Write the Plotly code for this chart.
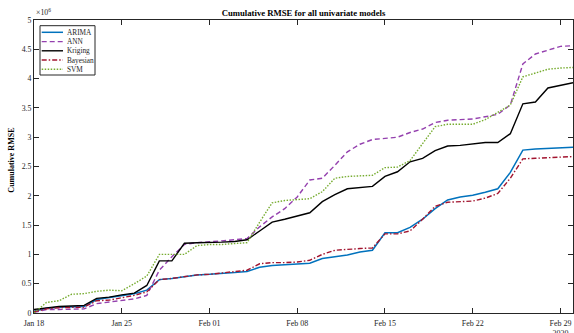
import pandas as pd
import plotly.graph_objects as go

# Dates (daily, Jan 18 2020 .. Mar 1 2020)
dates = pd.date_range("2020-01-18", "2020-03-01", freq="D")

# Cumulative RMSE values, in units of 1e6
arima = [0.03, 0.08, 0.10, 0.10, 0.11, 0.23, 0.26, 0.30, 0.33, 0.39,
         0.57, 0.59, 0.62, 0.65, 0.66, 0.67, 0.69, 0.71, 0.78, 0.81,
         0.82, 0.84, 0.85, 0.93, 0.96, 0.99, 1.04, 1.07, 1.37, 1.37,
         1.46, 1.60, 1.78, 1.93, 1.98, 2.01, 2.06, 2.12, 2.40, 2.78,
         2.80, 2.81, 2.82, 2.83]
ann = [0.01, 0.06, 0.06, 0.06, 0.07, 0.16, 0.19, 0.21, 0.24, 0.30,
       0.73, 0.96, 1.17, 1.20, 1.21, 1.23, 1.25, 1.27, 1.47, 1.64,
       1.78, 1.98, 2.27, 2.30, 2.52, 2.75, 2.88, 2.96, 2.98, 3.00,
       3.08, 3.14, 3.25, 3.29, 3.30, 3.31, 3.35, 3.39, 3.55, 4.25,
       4.42, 4.48, 4.55, 4.56]
kriging = [0.06, 0.09, 0.11, 0.12, 0.13, 0.25, 0.27, 0.31, 0.34, 0.47,
           0.89, 0.89, 1.19, 1.20, 1.20, 1.21, 1.22, 1.25, 1.40, 1.55,
           1.60, 1.65, 1.71, 1.90, 2.02, 2.12, 2.14, 2.16, 2.33, 2.41,
           2.58, 2.64, 2.77, 2.85, 2.86, 2.88, 2.91, 2.91, 3.06, 3.57,
           3.60, 3.84, 3.89, 3.93]
bayesian = [0.02, 0.07, 0.09, 0.10, 0.10, 0.21, 0.22, 0.26, 0.30, 0.36,
            0.57, 0.59, 0.62, 0.65, 0.66, 0.68, 0.70, 0.73, 0.84, 0.86,
            0.86, 0.87, 0.90, 1.00, 1.07, 1.09, 1.10, 1.11, 1.35, 1.35,
            1.40, 1.60, 1.82, 1.89, 1.90, 1.91, 1.96, 2.04, 2.30, 2.63,
            2.64, 2.65, 2.67, 2.67]
svm = [0.00, 0.18, 0.21, 0.32, 0.33, 0.37, 0.39, 0.38, 0.50, 0.63,
       1.00, 1.00, 1.00, 1.15, 1.17, 1.17, 1.18, 1.20, 1.55, 1.88,
       1.92, 1.93, 1.95, 2.07, 2.30, 2.33, 2.34, 2.35, 2.48, 2.49,
       2.60, 2.90, 3.18, 3.22, 3.22, 3.22, 3.30, 3.42, 3.55, 4.03,
       4.10, 4.16, 4.18, 4.19]

x_tick_vals = ["2020-01-18", "2020-01-25", "2020-02-01", "2020-02-08",
               "2020-02-15", "2020-02-22", "2020-02-29"]
x_tick_text = ["Jan 18", "Jan 25", "Feb 01", "Feb 08", "Feb 15", "Feb 22",
               "Feb 29<br>2020"]
y_tick_vals = [0, 0.5, 1, 1.5, 2, 2.5, 3, 3.5, 4, 4.5, 5]
y_tick_text = ["0", "0.5", "1", "1.5", "2", "2.5", "3", "3.5", "4", "4.5", "5"]

names = ["ARIMA", "ANN", "Kriging", "Bayesian", "SVM"]
series = [arima, ann, kriging, bayesian, svm]
colors = ["#0072BD", "#9440AE", "#000000", "#A2142F", "#77AC30"]
dashes = ["solid", "5px,3px", "solid", "5px,2px,1.5px,2px", "1.5px,1.5px"]
widths = [1.5, 1.4, 1.4, 1.4, 1.4]

FONT = "Liberation Serif"
AX = "#262626"

fig = go.Figure()
for n, s, c, d, w in zip(names, series, colors, dashes, widths):
    fig.add_trace(go.Scatter(x=dates, y=s, name=n, mode="lines",
                             line=dict(color=c, dash=d, width=w),
                             showlegend=False))

# Custom legend (MATLAB-like compact box)
L, R, T, B = 34, 573, 20, 313
W, H = R - L, B - T
def px(x):
    return (x - L) / W
def py(y):
    return (B - y) / H

shapes = [dict(type="rect", xref="paper", yref="paper",
               x0=px(40), x1=px(95), y0=py(75), y1=py(25.7),
               line=dict(color=AX, width=1), fillcolor="white", layer="above")]
annotations = []
ys = [32.3, 41.6, 50.8, 60.0, 69.3]
for n, c, d, w, yy in zip(names, colors, dashes, widths, ys):
    shapes.append(dict(type="line", xref="paper", yref="paper",
                       x0=px(41.7), x1=px(63), y0=py(yy), y1=py(yy),
                       line=dict(color=c, dash=d, width=w), layer="above"))
    annotations.append(dict(text=n, xref="paper", yref="paper",
                            x=px(65.3), y=py(yy), xanchor="left", yanchor="middle",
                            showarrow=False, font=dict(family=FONT, size=7.3, color=AX)))

annotations.append(dict(text="×10<sup>6</sup>", xref="paper", yref="paper",
                        x=px(34), y=py(19), xanchor="left", yanchor="bottom",
                        showarrow=False, font=dict(family=FONT, size=7.8, color=AX)))
annotations.append(dict(text="<b>Cumulative RMSE</b>", xref="paper", yref="paper",
                        x=px(12), y=0.52, textangle=-90, xanchor="center", yanchor="middle",
                        showarrow=False, font=dict(family=FONT, size=8, color="#000000")))
annotations.append(dict(text="<b>Date</b>", xref="paper", yref="paper",
                        x=0.5, y=py(330), xanchor="center", yanchor="top",
                        showarrow=False, font=dict(family=FONT, size=8, color="#000000")))

fig.update_layout(
    width=574, height=333,
    margin=dict(l=L, r=574 - R, t=T, b=333 - B, pad=0),
    paper_bgcolor="white", plot_bgcolor="white",
    font=dict(family=FONT, size=8, color=AX),
    title=dict(text="<b>Cumulative RMSE for all univariate models</b>",
               x=(L + R) / 2 / 574, xanchor="center",
               y=1 - 12.5 / 333, yanchor="middle",
               font=dict(family=FONT, size=8.7, color="#000000")),
    shapes=shapes, annotations=annotations,
    showlegend=False,
)
fig.update_xaxes(range=["2020-01-18", "2020-03-01"], tickvals=x_tick_vals,
                 ticktext=x_tick_text, ticks="inside", ticklen=5, tickwidth=1,
                 tickcolor=AX, showline=True, linecolor=AX, linewidth=1,
                 mirror="ticks", showgrid=False, zeroline=False,
                 ticklabelstandoff=2, ticklabeloverflow="allow",
                 tickfont=dict(family=FONT, size=8, color=AX), automargin=False)
fig.update_yaxes(range=[0, 5], tickvals=y_tick_vals, ticktext=y_tick_text,
                 ticks="inside", ticklen=5, tickwidth=1, tickcolor=AX,
                 showline=True, linecolor=AX, linewidth=1, mirror="ticks",
                 showgrid=False, zeroline=False,
                 tickfont=dict(family=FONT, size=7.8, color=AX), automargin=False)

fig.write_html("out.html", config={"displayModeBar": False},
               post_script="document.body.style.margin='0px';")
